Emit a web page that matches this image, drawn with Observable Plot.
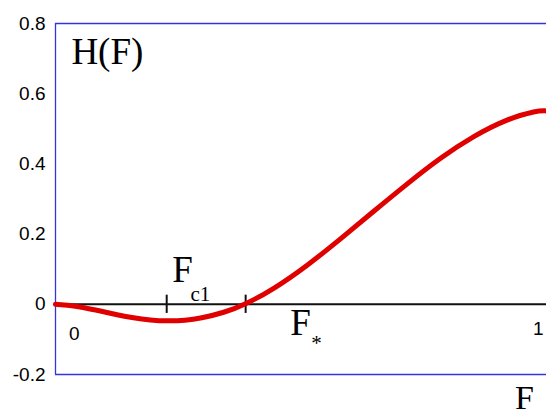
<!DOCTYPE html>
<html>
<head>
<meta charset="utf-8">
<script src="https://cdn.jsdelivr.net/npm/d3@7"></script>
<script src="https://cdn.jsdelivr.net/npm/@observablehq/plot@0.6"></script>
<style>
  html, body { margin: 0; padding: 0; background: #fff; }
  svg { display: block; }
</style>
</head>
<body>
<div id="chart"></div>
<script>
// Curve H(F)
const F = [0, 0.030, 0.059, 0.093, 0.128, 0.162, 0.197, 0.232, 0.270, 0.301, 0.350, 0.395, 0.453, 0.523, 0.592, 0.661, 0.731, 0.800, 0.869, 0.938, 1.0, 1.02];
const H = [0, -0.003, -0.009, -0.019, -0.030, -0.039, -0.045, -0.048, -0.046, -0.040, -0.024, 0, 0.043, 0.110, 0.186, 0.265, 0.344, 0.418, 0.480, 0.528, 0.552, 0.551];

// y tick values and labels
const yTicks = [-0.2, 0, 0.2, 0.4, 0.6, 0.8];
const yTickLabels = ["-0.2", "0", "0.2", "0.4", "0.6", "0.8"];

// marked points on F axis: F_c1 and F_*
const markF = [0.231, 0.395];

// x-axis end labels
const xLabelText = ["0", "1"];
const xLabelF = [0.039, 1.003];
const xLabelH = [-0.083, -0.069];

// big serif annotations
const bigText = ["H(F)", "F", "F"];
const bigF = [0.033, 0.264, 0.509];
const bigH = [0.717, 0.096, -0.055];
const bigAnchor = ["start", "middle", "middle"];

// axis title at bottom right
const axisTitle = ["F"];
const axisTitleF = [0.974];
const axisTitleH = [-0.268];

// subscripts
const subText = ["c1", "*"];
const subF = [0.301, 0.542];
const subH = [0.028, -0.111];

const curve = F.map((f, i) => ({F: f, H: H[i]}));
const yTickData = yTicks.map((v, i) => ({v, label: yTickLabels[i]}));
const xLabels = xLabelText.map((t, i) => ({t, F: xLabelF[i], H: xLabelH[i]}));
const bigs = bigText.map((t, i) => ({t, F: bigF[i], H: bigH[i], a: bigAnchor[i]}));
const subs = subText.map((t, i) => ({t, F: subF[i], H: subH[i]}));
const titles = axisTitle.map((t, i) => ({t, F: axisTitleF[i], H: axisTitleH[i]}));

const blue = "#3434dc";
const serif = "'Liberation Serif', 'Times New Roman', serif";
const sans = "'Liberation Sans', Arial, sans-serif";

const chart = Plot.plot({
  width: 546,
  height: 418,
  marginLeft: 55,
  marginRight: 0,
  marginTop: 23,
  marginBottom: 44,
  x: {domain: [0, 1.02], axis: null},
  y: {domain: [-0.2, 0.8], axis: null},
  marks: [
    // frame lines
    Plot.ruleY([-0.2, 0.8], {stroke: blue, strokeWidth: 1.3}),
    Plot.ruleX([0], {stroke: blue, strokeWidth: 1.3}),
    // zero axis
    Plot.ruleY([0], {stroke: "#111", strokeWidth: 2}),
    // tick marks at F_c1 and F_*
    Plot.ruleX(markF, {y1: -0.026, y2: 0.026, stroke: "#111", strokeWidth: 2}),
    // curve
    Plot.line(curve, {x: "F", y: "H", curve: "basis", stroke: "#e00000", strokeWidth: 5}),
    // y tick labels
    Plot.text(yTickData, {
      x: 0, y: "v", text: "label", textAnchor: "end", dx: -10,
      fontSize: 19, fontFamily: sans, fill: "#000"
    }),
    // x labels
    Plot.text(xLabels, {
      x: "F", y: "H", text: "t", fontSize: 19, fontFamily: sans, fill: "#000"
    }),
    // big serif texts
    Plot.text(bigs, {
      x: "F", y: "H", text: "t", textAnchor: "start", fontSize: 37, fontFamily: serif, fill: "#000",
      filter: d => d.a === "start"
    }),
    Plot.text(bigs, {
      x: "F", y: "H", text: "t", textAnchor: "middle", fontSize: 37, fontFamily: serif, fill: "#000",
      filter: d => d.a === "middle"
    }),
    // axis title
    Plot.text(titles, {
      x: "F", y: "H", text: "t", fontSize: 34, fontFamily: serif, fill: "#000"
    }),
    // subscripts
    Plot.text(subs, {
      x: "F", y: "H", text: "t", fontSize: 21, fontFamily: serif, fill: "#000"
    })
  ]
});

document.getElementById("chart").append(chart);
</script>
</body>
</html>
